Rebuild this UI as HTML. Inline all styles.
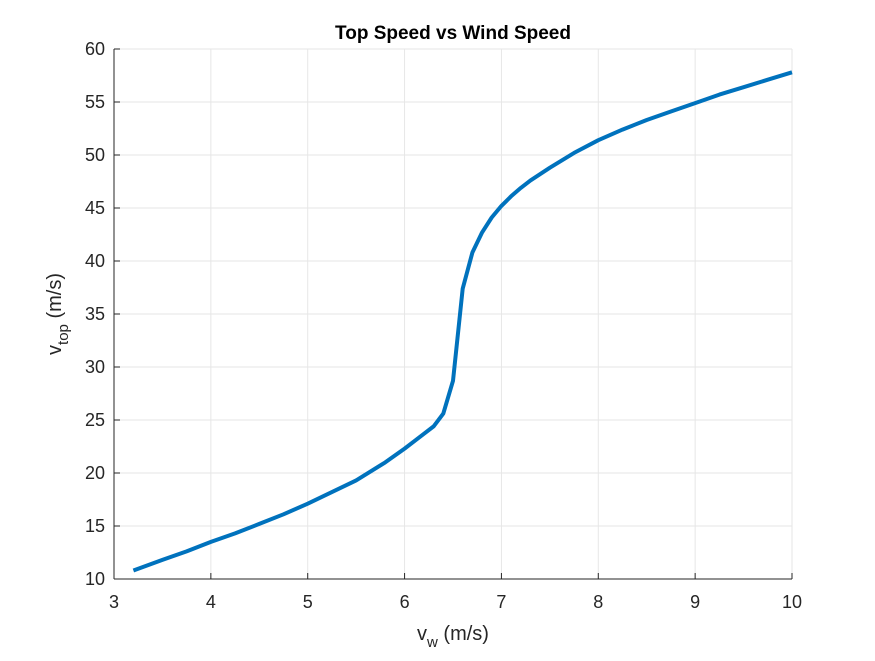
<!DOCTYPE html>
<html><head><meta charset="utf-8"><style>
body{margin:0;background:#fff;font-family:"Liberation Sans",Arial,sans-serif}
svg text{font-family:"Liberation Sans",Arial,sans-serif}
</style></head><body>
<svg id="chart" width="875" height="656" xmlns="http://www.w3.org/2000/svg">
<rect x="0" y="0" width="875" height="656" fill="#fff"/>
<rect x="114" y="49" width="678" height="530" fill="#fff"/>
<g id="grid"></g>
<g id="series"></g>
<g id="axes"></g>
<text x="453" y="39" text-anchor="middle" font-size="19" font-weight="bold" fill="#000">Top Speed vs Wind Speed</text>
<text x="453" y="640" text-anchor="middle" font-size="20" fill="#262626">v<tspan font-size="15" dy="7">w</tspan><tspan dy="-7"> (m/s)</tspan></text>
<text transform="translate(61,314) rotate(-90)" text-anchor="middle" font-size="20" fill="#262626">v<tspan font-size="15" dy="7">top</tspan><tspan dy="-7"> (m/s)</tspan></text>
</svg>
<script>
const xTicks=[3,4,5,6,7,8,9,10];
const yTicks=[10,15,20,25,30,35,40,45,50,55,60];
const windSpeed=[3.2,3.5,3.75,4,4.25,4.5,4.75,5,5.25,5.5,5.8,6,6.1,6.2,6.3,6.4,6.5,6.6,6.7,6.8,6.9,7,7.1,7.2,7.3,7.4,7.5,7.75,8,8.25,8.5,8.75,9,9.25,9.5,9.75,10];
const topSpeed=[10.8,11.8,12.6,13.5,14.3,15.2,16.1,17.1,18.2,19.3,21.0,22.3,23.0,23.7,24.4,25.6,28.7,37.4,40.8,42.7,44.1,45.2,46.1,46.9,47.6,48.2,48.8,50.2,51.4,52.4,53.3,54.1,54.9,55.7,56.4,57.1,57.8];
const L=114,R=792,T=49,B=579;
const sx=v=>L+(v-3)/(10-3)*(R-L);
const sy=v=>B-(v-10)/(60-10)*(B-T);
const NS="http://www.w3.org/2000/svg";
function mk(t,a,p){const e=document.createElementNS(NS,t);for(const k in a)e.setAttribute(k,a[k]);p.appendChild(e);return e;}
const grid=document.getElementById('grid'),axes=document.getElementById('axes'),series=document.getElementById('series');
xTicks.forEach(v=>{
 const g=mk('line',{x1:sx(v),x2:sx(v),y1:T,y2:B,stroke:'#e6e6e6','stroke-width':1},grid);
 
 
 const tk=mk('line',{x1:sx(v),x2:sx(v),y1:B,y2:B-6,stroke:'#262626','stroke-width':1},axes);
 
 
 const t=mk('text',{x:sx(v),y:B+29,'text-anchor':'middle','font-size':18,fill:'#262626'},axes);
 t.textContent=v;
 
 
});
yTicks.forEach(v=>{
 const g=mk('line',{x1:L,x2:R,y1:sy(v),y2:sy(v),stroke:'#e6e6e6','stroke-width':1},grid);
 
 
 const tk=mk('line',{x1:L,x2:L+6,y1:sy(v),y2:sy(v),stroke:'#262626','stroke-width':1},axes);
 
 
 const t=mk('text',{x:L-9,y:sy(v)+6,'text-anchor':'end','font-size':18,fill:'#262626'},axes);
 t.textContent=v;
 
 
});
const xa=mk('line',{x1:L,x2:R,y1:B,y2:B,stroke:'#262626','stroke-width':1},axes);


const ya=mk('line',{x1:L,x2:L,y1:T,y2:B,stroke:'#262626','stroke-width':1},axes);


const pts=windSpeed.map((w,i)=>sx(w).toFixed(1)+','+sy(topSpeed[i]).toFixed(1)).join(' ');
const line=mk('polyline',{points:pts,fill:'none',stroke:'#0072bd','stroke-width':4,'stroke-linejoin':'round'},series);


</script>
</body></html>
